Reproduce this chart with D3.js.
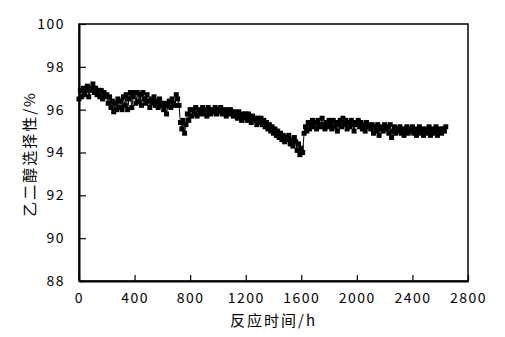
<!DOCTYPE html>
<html>
<head>
<meta charset="utf-8">
<script src="https://cdn.jsdelivr.net/npm/d3@7"></script>
<style>
  body { margin: 0; background: #fff; }
  text { font-family: "Noto Sans CJK JP", "DejaVu Sans", sans-serif; fill: #000; }
</style>
</head>
<body>
<svg class="chart" width="505" height="337"></svg>
<script>
// reaction time (h), sampled every 10 h, and ethylene glycol selectivity (%)
var hours = d3.range(0, 2641, 10);
var selectivity = [96.5, 96.9, 96.6, 97.0, 96.7, 96.9, 97.1, 96.6, 96.9, 97.0, 97.2,
  96.8, 97.0, 96.7, 96.9, 96.6, 96.9, 96.5, 96.8, 96.6, 96.7,
  96.3, 96.6, 96.1, 96.4, 95.9, 96.3, 96.0, 96.5, 96.1, 96.4,
  96.0, 96.6, 96.2, 96.7, 96.0, 96.5, 96.8, 96.1, 96.6, 96.8,
  96.3, 96.8, 96.4, 96.7, 96.2, 96.8, 96.5, 96.3, 96.7, 96.4,
  96.1, 96.5, 96.3, 96.6, 96.2, 96.4, 96.1, 96.5, 96.3, 96.2,
  96.0, 96.3, 95.8, 96.2, 96.4, 96.1, 96.5, 96.3, 96.2, 96.7,
  96.5, 96.2, 95.4, 95.1, 95.5, 94.9, 95.3, 95.8, 95.5, 96.0,
  95.7, 96.0, 95.8, 96.1, 95.7, 96.0, 95.8, 95.9, 96.1, 95.8,
  96.0, 95.7, 96.1, 95.9, 95.8, 96.0, 95.9, 96.1, 95.8, 96.0,
  95.9, 96.1, 95.8, 96.0, 95.9, 95.7, 96.0, 95.8, 96.0, 95.9,
  95.7, 95.9, 95.8, 95.6, 95.9, 95.7, 95.5, 95.8, 95.6, 95.8,
  95.5, 95.8, 95.6, 95.4, 95.7, 95.5, 95.6, 95.3, 95.6, 95.4,
  95.6, 95.3, 95.5, 95.2, 95.4, 95.1, 95.3, 95.0, 95.2, 94.9,
  95.1, 94.8, 95.0, 94.7, 94.9, 94.6, 94.8, 94.5, 94.7, 94.6,
  94.8, 94.4, 94.6, 94.3, 94.7, 94.5, 94.1, 94.4, 93.9, 94.2,
  94.0, 94.9, 95.2, 95.0, 95.4, 95.1, 95.3, 95.5, 95.2, 95.4,
  95.1, 95.5, 95.3, 95.2, 95.6, 95.3, 95.1, 95.4, 95.2, 95.5,
  95.3, 95.1, 95.5, 95.2, 95.4, 95.0, 95.3, 95.5, 95.2, 95.6,
  95.3, 95.5, 95.1, 95.4, 95.2, 95.5, 95.3, 95.0, 95.4, 95.3,
  95.5, 95.2, 95.4, 95.1, 95.3, 95.0, 95.4, 95.2, 95.3, 95.1,
  95.3, 94.9, 95.2, 95.0, 95.3, 94.8, 95.1, 95.2, 95.0, 95.3,
  95.1, 95.2, 94.9, 95.3, 94.7, 95.0, 95.2, 94.9, 95.1, 95.0,
  95.2, 94.9, 95.1, 94.8, 95.0, 95.2, 94.9, 95.1, 95.0, 95.2,
  94.9, 95.1, 94.8, 95.0, 95.2, 94.9, 95.1, 94.8, 95.0, 95.1,
  94.9, 95.2, 94.8, 95.0, 95.1, 94.9, 95.2, 94.8, 95.0, 95.1,
  94.9, 95.1, 95.0, 95.2];
var xTicks = [0, 400, 800, 1200, 1600, 2000, 2400, 2800];
var yTicks = [88, 90, 92, 94, 96, 98, 100];

var data = hours.map(function(h, i) {
  return { t: h, v: selectivity[i] };
});

var svg = d3.select(".chart"),
  margin = { top: 24, right: 37, bottom: 56, left: 79 },
  width = +svg.attr("width") - margin.left - margin.right,
  height = +svg.attr("height") - margin.top - margin.bottom,
  g = svg.append("g").attr("transform", "translate(" + margin.left + "," + margin.top + ")");

var x = d3.scaleLinear().domain([0, 2800]).range([0, width]);
var y = d3.scaleLinear().domain([88, 100]).range([height, 0]);

// frame
g.append("rect")
  .attr("width", width)
  .attr("height", height)
  .attr("fill", "none")
  .attr("stroke", "#000")
  .attr("stroke-width", 1.5);

var xAxis = g.append("g")
  .attr("transform", "translate(0," + height + ")")
  .call(d3.axisBottom(x).tickValues(xTicks).tickFormat(d3.format("d"))
    .tickSizeInner(-6).tickSizeOuter(0).tickPadding(12));
xAxis.select(".domain").attr("stroke-width", 2);
xAxis.selectAll(".tick line").attr("stroke-width", 1.2);
xAxis.selectAll("text").style("font-size", "14px").style("letter-spacing", "1.5px");

var yAxis = g.append("g")
  .call(d3.axisLeft(y).tickValues(yTicks).tickFormat(d3.format("d"))
    .tickSizeInner(-7).tickSizeOuter(0).tickPadding(14));
yAxis.select(".domain").attr("stroke-width", 2);
yAxis.selectAll(".tick line").attr("stroke-width", 1.2);
yAxis.selectAll("text").style("font-size", "14px").style("letter-spacing", "1.5px");

// series
var line = d3.line()
  .x(function(d) { return x(d.t); })
  .y(function(d) { return y(d.v); });

g.append("path")
  .datum(data)
  .attr("fill", "none")
  .attr("stroke", "#000")
  .attr("stroke-width", 1)
  .attr("d", line);

g.selectAll(".pt")
  .data(data)
  .enter()
  .append("rect")
  .attr("class", "pt")
  .attr("x", function(d) { return x(d.t) - 2.5; })
  .attr("y", function(d) { return y(d.v) - 2.5; })
  .attr("width", 5)
  .attr("height", 5)
  .attr("fill", "#000");

// axis titles
svg.append("text")
  .attr("x", margin.left + width / 2)
  .attr("y", 326)
  .attr("text-anchor", "middle")
  .style("font-size", "15px")
  .style("letter-spacing", "2px")
  .text("反应时间/h");

svg.append("text")
  .attr("transform", "translate(35,154) rotate(-90)")
  .attr("text-anchor", "middle")
  .style("font-size", "15px")
  .style("letter-spacing", "2px")
  .text("乙二醇选择性/%");
</script>
</body>
</html>
